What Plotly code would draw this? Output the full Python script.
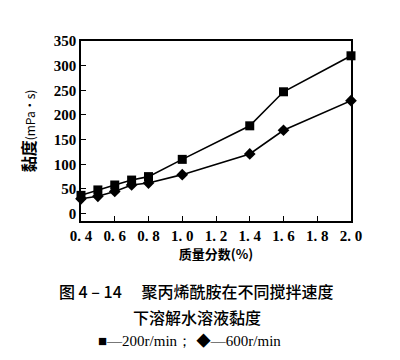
import plotly.graph_objects as go

x_vals = [0.4, 0.5, 0.6, 0.7, 0.8, 1.0, 1.4, 1.6, 2.0]
visc_200 = [37, 48, 58, 68, 75, 110, 178, 247, 320]
visc_600 = [30, 35, 45, 58, 62, 79, 121, 169, 229]

x_ticks = [0.4, 0.6, 0.8, 1.0, 1.2, 1.4, 1.6, 1.8, 2.0]
x_tick_labels = ["0. 4", "0. 6", "0. 8", "1. 0", "1. 2", "1. 4", "1. 6", "1. 8", "2. 0"]
y_ticks = [0, 50, 100, 150, 200, 250, 300, 350]

tick_font = dict(family="Liberation Serif", size=15, color="black", weight="bold")

fig = go.Figure()
fig.add_trace(go.Scatter(x=x_vals, y=visc_200, mode="lines+markers",
                         line=dict(color="black", width=1.6),
                         marker=dict(symbol="square", size=9, color="black"),
                         name="200r/min", cliponaxis=False))
fig.add_trace(go.Scatter(x=x_vals, y=visc_600, mode="lines+markers",
                         line=dict(color="black", width=1.6),
                         marker=dict(symbol="diamond", size=9, color="black"),
                         name="600r/min", cliponaxis=False))

fig.update_layout(
    width=400, height=360,
    margin=dict(l=73, r=57, t=33, b=147),
    paper_bgcolor="white", plot_bgcolor="white",
    showlegend=False,
    xaxis=dict(range=[0.4, 2.0], tickvals=x_ticks, ticktext=x_tick_labels,
               ticks="inside", ticklen=5, tickcolor="black",
               showline=True, linecolor="black", linewidth=1.5, mirror=True,
               showgrid=False, zeroline=False, tickfont=tick_font,
               title=dict(text="质量分数(%)", font=dict(family="Noto Sans CJK SC", size=13, color="black", weight="bold"),
                          standoff=0)),
    yaxis=dict(range=[-15, 350], tickvals=y_ticks,
               ticks="inside", ticklen=5, tickcolor="black",
               showline=True, linecolor="black", linewidth=1.5, mirror=True,
               showgrid=False, zeroline=False, tickfont=tick_font,
               title=dict(text="<b>黏度</b><span style='font-size:12px'>(mPa·s)</span>",
                          font=dict(family="Noto Sans CJK SC", size=16, color="black"),
                          standoff=14)),
)

cap_font = dict(family="Noto Sans CJK SC", size=16, color="black", weight=500)
fig.add_annotation(text="图 4 – 14　 聚丙烯酰胺在不同搅拌速度", xref="paper", yref="paper",
                   x=0.5, y=-0.389, xanchor="center", yanchor="middle", showarrow=False,
                   font=cap_font, xshift=-20)
fig.add_annotation(text="下溶解水溶液黏度", xref="paper", yref="paper",
                   x=0.5, y=-0.533, xanchor="center", yanchor="middle", showarrow=False,
                   font=cap_font, xshift=-19)
fig.add_annotation(text="■—200r/min； ◆—600r/min", xref="paper", yref="paper",
                   x=0.5, y=-0.667, xanchor="center", yanchor="middle", showarrow=False,
                   font=dict(family="Liberation Serif", size=15, color="black"), xshift=-27)

fig.write_html("out.html")
